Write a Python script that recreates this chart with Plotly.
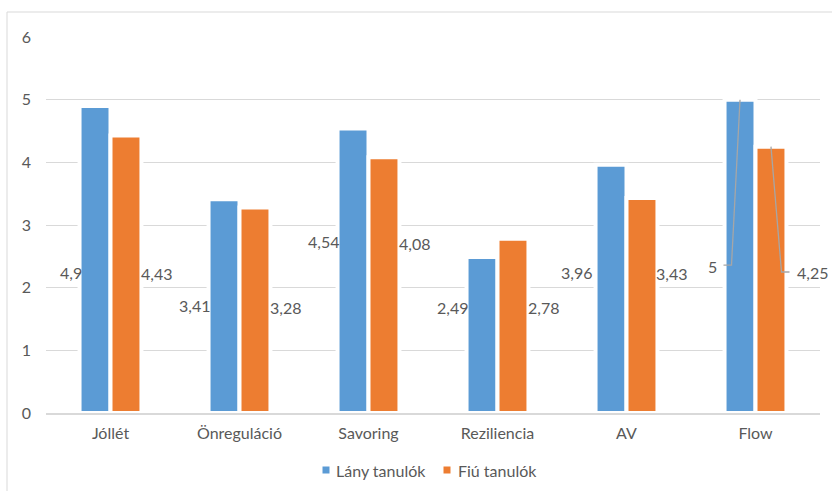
import plotly.graph_objects as go

# Mean scores by domain, girls vs boys
categories = ["Jóllét", "Önreguláció", "Savoring", "Reziliencia", "AV", "Flow"]
girls = [4.9, 3.41, 4.54, 2.49, 3.96, 5]
boys = [4.43, 3.28, 4.08, 2.78, 3.43, 4.25]
series_names = ["Lány tanulók", "Fiú tanulók"]
y_ticks = [0, 1, 2, 3, 4, 5, 6]

# Data-label placement (height in axis units, horizontal shift in px)
girls_label_y = [2.25, 1.72, 2.74, 1.69, 2.25, 2.33]
boys_label_y = [2.22, 1.69, 2.71, 1.69, 2.23, 2.25]
girls_label_dx = [-27, -28, -28, -28, -33, -37]
boys_label_dx = [28, 28, 28, 28, 27, 39]

BLUE = "#5B9BD5"
ORANGE = "#ED7D31"
TEXT = "#595959"
GRID = "#D9D9D9"
FONT = "Lato"
FSIZE = 16

W, H = 832, 491
ML, MR, MT, MB = 46, 12, 37, 78
PW, PH = W - ML - MR, H - MT - MB
BARGAP = 0.52
px_per_cat = PW / len(categories)


def fmt(v):
    return f"{v:g}".replace(".", ",")


fig = go.Figure()
for name, vals, col in [(series_names[0], girls, BLUE), (series_names[1], boys, ORANGE)]:
    fig.add_trace(go.Bar(
        x=categories, y=vals, name=name,
        marker=dict(color=col, line=dict(color="white", width=4)),
        showlegend=False, hoverinfo="x+y",
    ))

annotations = []
shapes = []

# Value labels beside the bars
for i, cat in enumerate(categories):
    annotations.append(dict(
        x=cat, y=girls_label_y[i], xref="x", yref="y", text=fmt(girls[i]),
        showarrow=False, xanchor="right", yanchor="middle", xshift=girls_label_dx[i],
        font=dict(family=FONT, size=FSIZE, color=TEXT),
    ))
    annotations.append(dict(
        x=cat, y=boys_label_y[i], xref="x", yref="y", text=fmt(boys[i]),
        showarrow=False, xanchor="left", yanchor="middle", xshift=boys_label_dx[i],
        font=dict(family=FONT, size=FSIZE, color=TEXT),
    ))

# Leader lines for the last category's labels
bar_half = px_per_cat * (1 - BARGAP) / 4  # offset of each bar centre from category centre
last = len(categories) - 1
for vals, ly, dx, side in [(girls, girls_label_y, girls_label_dx, -1), (boys, boys_label_y, boys_label_dx, 1)]:
    # short horizontal tick next to the label, then a slanted line to the bar top
    x_far = last + (dx[last] - side * 5) / px_per_cat
    x_near = last + (dx[last] - side * 13) / px_per_cat
    y_l = ly[last] + (0.03 if side < 0 else 0)
    x_top = last + side * bar_half / px_per_cat
    shapes.append(dict(
        type="path", xref="x", yref="y",
        path=f"M {x_far},{y_l} L {x_near},{y_l} L {x_top},{vals[last]}",
        line=dict(color="#A6A6A6", width=1.3), layer="above",
    ))

# Chart frame
shapes.append(dict(
    type="rect", xref="paper", yref="paper",
    x0=(7 - ML) / PW, x1=(W + 20 - ML) / PW,
    y0=(H - MB - (H + 20)) / PH, y1=(H - MB - 12) / PH,
    line=dict(color=GRID, width=1), fillcolor="rgba(0,0,0,0)", layer="below",
))

# Legend drawn as squares + text beneath the axis
legend_y_px = 470
for name, col, sq_x, tx_x in [(series_names[0], BLUE, 326, 334), (series_names[1], ORANGE, 447, 456)]:
    shapes.append(dict(
        type="rect", xref="paper", yref="paper",
        x0=(sq_x - 3.5 - ML) / PW, x1=(sq_x + 3.5 - ML) / PW,
        y0=(H - MB - legend_y_px - 3.5) / PH, y1=(H - MB - legend_y_px + 3.5) / PH,
        line=dict(width=0), fillcolor=col,
    ))
    annotations.append(dict(
        x=(tx_x - ML) / PW, y=(H - MB - legend_y_px) / PH, xref="paper", yref="paper",
        text=name, showarrow=False, xanchor="left", yanchor="middle",
        font=dict(family=FONT, size=FSIZE, color=TEXT),
    ))

fig.update_layout(
    width=W, height=H,
    margin=dict(l=ML, r=MR, t=MT, b=MB),
    paper_bgcolor="white", plot_bgcolor="white",
    barmode="group", bargap=BARGAP, bargroupgap=0,
    font=dict(family=FONT, size=FSIZE, color=TEXT),
    annotations=annotations, shapes=shapes,
    showlegend=False,
    xaxis=dict(
        type="category", range=[-0.5, len(categories) - 0.5], autorange=False,
        showgrid=False, showline=True, linecolor=GRID, linewidth=1.5,
        ticks="", tickfont=dict(family=FONT, size=FSIZE, color=TEXT), ticklabelstandoff=5,
        layer="above traces", fixedrange=True, automargin=False,
    ),
    yaxis=dict(
        range=[y_ticks[0], y_ticks[-1]], autorange=False, tickvals=y_ticks,
        showgrid=True, gridcolor=GRID, gridwidth=1.3, zeroline=False, showline=False, ticks="",
        tickfont=dict(family=FONT, size=FSIZE, color=TEXT), ticklabelstandoff=14,
        fixedrange=True, automargin=False,
    ),
)

fig.write_html("out.html")
